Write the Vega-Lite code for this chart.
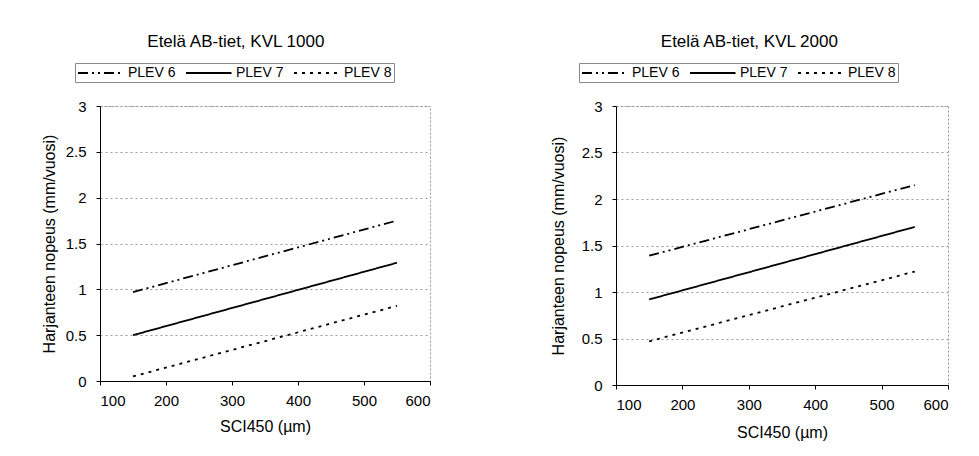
{
  "$schema": "https://vega.github.io/schema/vega-lite/v6.json",
  "background": "white",
  "padding": {"left": 40, "top": 32, "right": 5, "bottom": 5},
  "config": {
    "font": "Liberation Sans",
    "view": {"stroke": "#999999", "strokeDash": [2, 2], "strokeWidth": 1},
    "axis": {
      "labelFont": "Liberation Sans", "labelFontSize": 15, "labelColor": "#000000",
      "titleFont": "Liberation Sans", "titleFontSize": 16, "titleFontWeight": "normal", "titleColor": "#000000",
      "domainColor": "#000000", "tickColor": "#000000", "tickSize": 4
    },
    "title": {"font": "Liberation Sans", "fontSize": 17, "fontWeight": "normal", "color": "#000000"},
    "legend": {
      "orient": "none", "direction": "horizontal", "columns": 3,
      "strokeColor": "#888888", "padding": 2, "symbolType": "M-1,0H5.5",
      "symbolSize": 196, "symbolStrokeWidth": 1.8, "symbolStrokeColor": "#000000",
      "labelFont": "Liberation Sans", "labelFontSize": 14, "labelColor": "#000000",
      "labelOffset": 35, "columnPadding": 6, "title": null
    },
    "concat": {"spacing": 118}
  },
  "datasets": {
    "kvl1000": [
      {"SCI450": 150, "rate": 0.97, "series": "PLEV 6"},
      {"SCI450": 550, "rate": 1.75, "series": "PLEV 6"},
      {"SCI450": 150, "rate": 0.5, "series": "PLEV 7"},
      {"SCI450": 550, "rate": 1.29, "series": "PLEV 7"},
      {"SCI450": 150, "rate": 0.05, "series": "PLEV 8"},
      {"SCI450": 550, "rate": 0.82, "series": "PLEV 8"}
    ],
    "kvl2000": [
      {"SCI450": 150, "rate": 1.39, "series": "PLEV 6"},
      {"SCI450": 550, "rate": 2.15, "series": "PLEV 6"},
      {"SCI450": 150, "rate": 0.92, "series": "PLEV 7"},
      {"SCI450": 550, "rate": 1.7, "series": "PLEV 7"},
      {"SCI450": 150, "rate": 0.47, "series": "PLEV 8"},
      {"SCI450": 550, "rate": 1.22, "series": "PLEV 8"}
    ]
  },
  "hconcat": [
    {
      "title": {"text": "Etelä AB-tiet, KVL 1000", "offset": 12, "frame": "bounds"},
      "width": 330, "height": 275,
      "data": {"name": "kvl1000"},
      "mark": {"type": "line", "color": "#000000", "strokeWidth": 1.8},
      "encoding": {
        "x": {"field": "SCI450", "type": "quantitative", "scale": {"domain": [100, 600]},
          "axis": {"title": "SCI450 (µm)", "values": [100, 200, 300, 400, 500, 600], "grid": false, "labelPadding": 8, "titlePadding": 10}},
        "y": {"field": "rate", "type": "quantitative", "scale": {"domain": [0, 3]},
          "axis": {"title": "Harjanteen nopeus (mm/vuosi)", "format": "~g", "values": [0, 0.5, 1, 1.5, 2, 2.5, 3], "gridDash": [2, 3], "gridColor": "#999999", "labelPadding": 10, "titlePadding": 8}},
        "strokeDash": {"field": "series", "type": "nominal",
          "scale": {"domain": ["PLEV 6", "PLEV 7", "PLEV 8"], "range": [[10, 4, 2, 4, 2, 4], [1, 0], [3, 5]]},
          "legend": {"legendX": -25, "legendY": -43}}
      }
    },
    {
      "title": {"text": "Etelä AB-tiet, KVL 2000", "offset": 12, "frame": "bounds"},
      "width": 332, "height": 279,
      "data": {"name": "kvl2000"},
      "mark": {"type": "line", "color": "#000000", "strokeWidth": 1.8},
      "encoding": {
        "x": {"field": "SCI450", "type": "quantitative", "scale": {"domain": [100, 600]},
          "axis": {"title": "SCI450 (µm)", "values": [100, 200, 300, 400, 500, 600], "grid": false, "labelPadding": 8, "titlePadding": 12}},
        "y": {"field": "rate", "type": "quantitative", "scale": {"domain": [0, 3]},
          "axis": {"title": "Harjanteen nopeus (mm/vuosi)", "format": "~g", "values": [0, 0.5, 1, 1.5, 2, 2.5, 3], "gridDash": [2, 3], "gridColor": "#999999", "labelPadding": 10, "titlePadding": 15}},
        "strokeDash": {"field": "series", "type": "nominal",
          "scale": {"domain": ["PLEV 6", "PLEV 7", "PLEV 8"], "range": [[10, 4, 2, 4, 2, 4], [1, 0], [3, 5]]},
          "legend": {"legendX": -37, "legendY": -43}}
      }
    }
  ],
  "resolve": {"scale": {"strokeDash": "independent"}, "legend": {"strokeDash": "independent"}}
}
